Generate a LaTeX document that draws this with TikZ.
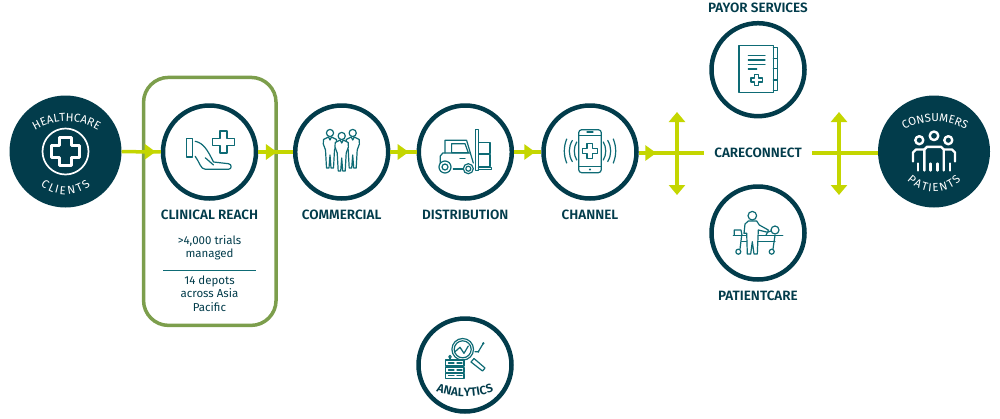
\documentclass[tikz,border=0pt]{standalone}
\usepackage{fontspec}
\setmainfont{Fira Sans}
\newfontfamily\labelfont{Fira Sans SemiBold}
\usetikzlibrary{positioning,arrows.meta,decorations.markings,decorations.text}
\definecolor{navy}{HTML}{023C4B}
\definecolor{iconteal}{HTML}{0E6B75}
\definecolor{lime}{HTML}{C4D600}
\definecolor{boxgreen}{HTML}{7C9E4C}
% plus sign outline: centre x, centre y, half size, half arm
\newcommand{\pluspath}[4]{({#1-#4},{#2-#3}) -- ({#1+#4},{#2-#3}) -- ({#1+#4},{#2-#4}) -- ({#1+#3},{#2-#4}) -- ({#1+#3},{#2+#4}) -- ({#1+#4},{#2+#4}) -- ({#1+#4},{#2+#3}) -- ({#1-#4},{#2+#3}) -- ({#1-#4},{#2+#4}) -- ({#1-#3},{#2+#4}) -- ({#1-#3},{#2-#4}) -- ({#1-#4},{#2-#4}) -- cycle}
\tikzset{
  ring/.style={circle, draw=navy, line width=4.5pt, fill=white, minimum size=93pt, inner sep=0pt},
  disc/.style={circle, fill=navy, minimum size=112pt, inner sep=0pt},
  tag/.style={font=\labelfont\fontsize{13.5}{15}\selectfont, text=navy, inner sep=0pt},
  note/.style={font=\fontsize{11.5}{13.3}\selectfont, text=navy, align=center, inner sep=0pt},
  link/.style={draw=lime, line width=3.5pt},
  tipat/.style={link, postaction={decorate}, decoration={markings, mark=at position #1 with {\arrow[lime]{Triangle[length=11pt,width=15pt]}}}},
  updown/.style={draw=lime, line width=3.5pt, >={Triangle[length=10pt,width=16pt]}, <->},
  iconline/.style={draw=iconteal, line width=1.2pt, line join=round, line cap=round},
  whiteline/.style={draw=white, line width=2.4pt, line join=round, line cap=round},
  arctext/.style={decorate, decoration={text along path, text align=center, text={|\color{white}\fontsize{11.5}{14}\selectfont|#1}}},
  looseword/.style={decorate, decoration={text effects along path, text={#1}, text effects/.cd, fit text to path, characters={text along path, text=white, font=\fontsize{11.5}{14}\selectfont}}},
  handicon/.pic={
    \draw[iconline] (-23.3,-13.3) rectangle (-16.7,5);
    \draw[iconline] (-14.3,-10.7) .. controls (-6,-9) and (-2,-2) .. (4,10) -- (19,11.7) .. controls (22.5,12) and (22.5,17.3) .. (19,17.3) -- (-4,17.3) .. controls (-9,17.3) and (-10,10) .. (-14.3,4.3);
    \draw[iconline] (-4.3,5.7) -- (4,13);
    \draw[iconline] \pluspath{14}{-10}{11}{3.5};
  },
  teamicon/.pic={
    \foreach \dx/\dy in {-11.7/-19,11/-19,0/-16} {
      \begin{scope}[shift={(\dx,\dy)}]
        \draw[iconline,fill=white] (-1.5,4) -- (-6.5,6.5) -- (-6.7,11) -- (-4.5,17) -- (-3.5,35) -- (-1,35) -- (0,22) -- (1,35) -- (3.5,35) -- (4.5,17) -- (6.7,11) -- (6.5,6.5) -- (1.5,4) -- (0,7) -- cycle;
        \draw[iconline,fill=white] (0,0) circle[radius=3.6];
      \end{scope}
    }
  },
  lifticon/.pic={
    \draw[iconline] (10,-22.3) rectangle (13,18.3);
    \draw[iconline] (13,15.7) -- (26.3,15.7) -- (26.3,17.7) -- (13,17.7);
    \draw[iconline] (13,-9.3) rectangle (24.7,1.7);
    \draw[iconline] (13,2.7) rectangle (24.7,14.3);
    \draw[iconline] (-20.3,1) -- (-20.3,-11.7) -- (1.3,-11.7) -- (8,11);
    \draw[iconline] (-13.7,-8.3) -- (-0.3,-8.3) -- (3,0.7) -- (-13.7,0.7) -- cycle;
    \draw[iconline] (-25,12) -- (-25,4) -- (-22.5,1) -- (5,1);
    \draw[iconline] (-5.3,6.7) -- (-0.3,6.7);
    \draw[iconline] (-12,17) -- (-2,17);
    \draw[iconline,fill=white] (-20.3,15) circle[radius=6];
    \draw[iconline] (-20.3,15) circle[radius=3];
    \draw[iconline,fill=white] (3,16.7) circle[radius=5];
    \draw[iconline] (3,16.7) circle[radius=2.5];
  },
  phoneicon/.pic={
    \draw[iconline,rounded corners=3pt] (-11.3,-22.3) rectangle (11.3,20.7);
    \draw[iconline] (-11.3,-16.7) -- (11.3,-16.7);
    \draw[iconline] (-11.3,14.3) -- (11.3,14.3);
    \draw[iconline] (-3,-20) -- (3,-20);
    \fill[iconteal] (0,17.5) circle[radius=1.2];
    \draw[iconline] \pluspath{-0.3}{-1}{7.5}{2.7};
    \foreach \sgn in {-1,1} {
      \foreach \ex/\cx/\ey in {13.3/16.5/9,17.7/21.7/10.5,23.3/26.5/12} {
        \draw[iconline] ({\sgn*\ex},{-1-\ey}) .. controls ({\sgn*\cx},-5) and ({\sgn*\cx},3) .. ({\sgn*\ex},{-1+\ey});
      }
    }
  },
  charticon/.pic={
    \draw[iconline] (-19,-24) rectangle (15.3,23);
    \draw[iconline] (15.3,-22) -- (19.3,-22) -- (19.3,21) -- (15.3,21);
    \foreach \ty in {-11.3,-1.3,10.3} {
      \draw[iconline] (15.3,\ty) -- (19.3,\ty);
    }
    \foreach \ty in {-14,-9.7,-5.3} {
      \draw[iconline] (-9.7,\ty) -- (7,\ty);
    }
    \draw[iconline] (-9.7,-0.7) -- (-1.3,-0.7);
    \draw[iconline] \pluspath{-1.3}{10.3}{5.7}{2};
  },
  careicon/.pic={
    \draw[iconline] (-24.7,2.3) -- (24.7,2.3);
    \draw[iconline] (-16.3,8.7) -- (17,8.7);
    \draw[iconline] (-23.7,2.3) -- (-23.7,-3) -- (-17,-3) -- (-16,2.3);
    \draw[iconline] (-16.3,2.3) -- (-18,16);
    \draw[iconline] (17,2.3) -- (15,16);
    \draw[iconline] (-19.7,18.7) circle[radius=2.5];
    \draw[iconline] (13.7,18.7) circle[radius=2.5];
    \draw[iconline] (17,-3) circle[radius=4];
    \draw[iconline] (8,2.3) .. controls (9,-1) and (11,-2) .. (13,-2);
    \draw[iconline,fill=white] (-14,0.3) -- (-13,-9) -- (-9.7,-12) -- (-1.3,-12) -- (1.3,-8) -- (10.3,-3) -- (9.7,-0.7) -- (0.3,-3) -- (-0.7,21) -- (-4,21) -- (-5.7,8.7) -- (-7.3,21) -- (-10.7,21) -- (-11.3,0.3) -- cycle;
    \draw[iconline] (-5.7,-17.3) circle[radius=4.3];
  },
  dataicon/.pic={
    \draw[iconline] (-2.3,-15.7) circle[radius=10.8];
    \draw[iconline] (-2.3,-15.7) circle[radius=8.5];
    \draw[iconline] (-10,-13.3) -- (-5,-17.7) -- (-1,-11.7) -- (3.3,-19);
    \draw[iconline] (9,-6.5) -- (20,3) -- (17.5,6) -- (6,-3) -- cycle;
    \draw[iconline] (10,-13.3) -- (13.3,-13.3) -- (18.3,-21.7);
    \fill[iconteal] (18.3,-21.7) circle[radius=1.3];
    \fill[iconteal] (13.3,-13.3) circle[radius=1.1];
    \draw[iconline] (-15,-8.3) circle[radius=1.3];
    \draw[iconline] (-15,-7) -- (-15,-5);
    \foreach \ty/\by in {-5/1,2.3/7.7,8.3/13.3} {
      \draw[iconline,fill=white] (-19.3,\ty) rectangle (-1,\by);
      \draw[iconline] (-16.5,{(\ty+\by)/2}) -- (-11,{(\ty+\by)/2});
      \draw[iconline] (-8,{(\ty+\by)/2}) -- (-3,{(\ty+\by)/2});
    }
  },
  crowdicon/.pic={
    \draw[whiteline] (-14.7,-11.3) circle[radius=4];
    \draw[whiteline] (0,-15.7) circle[radius=4.3];
    \draw[whiteline] (14.3,-11.3) circle[radius=4];
    \draw[whiteline] (-9.7,19) -- (-9.7,-2) -- (-7,-4.7) -- (7,-4.7) -- (9.7,-2) -- (9.7,19);
    \draw[whiteline] (-3.5,12) -- (-3.5,19);
    \draw[whiteline] (3.5,12) -- (3.5,19);
    \draw[whiteline] (-10,-2) -- (-18,-2) -- (-21,1) -- (-21,10);
    \draw[whiteline] (10,-2) -- (18,-2) -- (21,1) -- (21,10);
    \draw[whiteline] (-16,12) -- (-16,19);
    \draw[whiteline] (16,12) -- (16,19);
  }
}
\begin{document}
\begin{tikzpicture}[x=1pt,y=-1pt]
\useasboundingbox (0,0) rectangle (1000,418);
% box behind the second step
\node (reachbox) [draw=boxgreen, line width=3.5pt, rounded corners=25pt, minimum width=132.5pt, minimum height=248pt, inner sep=0pt] at (209.8,201.4) {};
% steps along the chain
\node (clients) [disc] at (65.5,151.5) {};
\node (reach) [ring] at (209.5,152) {};
\node (commercial) [ring] at (341.7,152) {};
\node (distribution) [ring] at (465.3,152) {};
\node (channel) [ring] at (590,152) {};
\node (payor) [ring] at (758,69.7) {};
\node (patientcare) [ring] at (758,233) {};
\node (analytics) [ring] at (465,365) {};
\node (consumers) [disc] at (934,151.5) {};
\node (careconnect) [tag, minimum width=108pt] at (758,153) {CARECONNECT};
% labels
\node (reachtag) [tag, below=9pt of reach] {CLINICAL REACH};
\node (commercialtag) [tag, below=9pt of commercial] {COMMERCIAL};
\node (distributiontag) [tag, below=9pt of distribution] {DISTRIBUTION};
\node (channeltag) [tag, below=9pt of channel] {CHANNEL};
\node (payortag) [tag, above=8pt of payor] {PAYOR SERVICES};
\node (patientcaretag) [tag, below=9pt of patientcare] {PATIENTCARE};
\node (trials) [note] at (209.5,247.5) {>4,000 trials\\managed};
\node (depots) [note] at (209.5,293.5) {14 depots\\across Asia\\Pacific};
\coordinate (ruleleft) at (163,270);
\coordinate (ruleright) at (256,270);
\draw[iconteal, line width=0.8pt] (ruleleft) -- (ruleright);
% connectors
\draw[tipat=0.87] (clients) -- (reach);
\draw[tipat=0.54] (reach) -- (commercial);
\draw[tipat=0.7] (commercial) -- (distribution);
\draw[tipat=0.78] (distribution) -- (channel);
\draw[tipat=0.27] (channel.east |- careconnect.west) -- (careconnect.west);
\draw[link] (careconnect.east) -- (consumers.west |- careconnect.east);
\coordinate (leftup) at (677,112);
\coordinate (leftdown) at (677,195);
\coordinate (rightup) at (839,112);
\coordinate (rightdown) at (839,195);
\draw[updown] (leftup) -- (leftdown);
\draw[updown] (rightup) -- (rightdown);
% icons
\pic at (reach) {handicon};
\pic at (commercial) {teamicon};
\pic at (distribution) {lifticon};
\pic at (channel) {phoneicon};
\pic at (payor) {charticon};
\pic at (patientcare) {careicon};
\pic at (analytics) {dataicon};
\pic at (consumers) {crowdicon};
% filled circles
\begin{scope}[shift={(clients.center)}]
  \draw[draw=white, line width=1.7pt] (0,0) circle[radius=23];
  \draw[draw=white, line width=2.6pt, line join=round] \pluspath{0}{0}{14}{5.8};
  \path[arctext={HEALTHCARE}] (-42,-12) .. controls (-18,-36) and (20,-36) .. (44,-12);
  \path[looseword={CLIENTS}] (-25,33.7) .. controls (-10.7,46.1) and (10.7,46.1) .. (25,33.7);
\end{scope}
\begin{scope}[shift={(consumers.center)}]
  \path[arctext={CONSUMERS}] (-42,-12) .. controls (-18,-36) and (20,-36) .. (44,-12);
  \path[looseword={PATIENTS}] (-27,28.7) .. controls (-12.2,43.7) and (12.2,43.7) .. (27,28.7);
\end{scope}
\begin{scope}[shift={(analytics.center)}]
  \path[decorate, decoration={text along path, text align=center, text={|\labelfont\color{navy}\fontsize{12}{14}\selectfont|ANALYTICS}}] (-40.5,20.8) .. controls (-15.5,35.2) and (15.5,35.2) .. (40.5,20.8);
\end{scope}
\end{tikzpicture}
\end{document}
